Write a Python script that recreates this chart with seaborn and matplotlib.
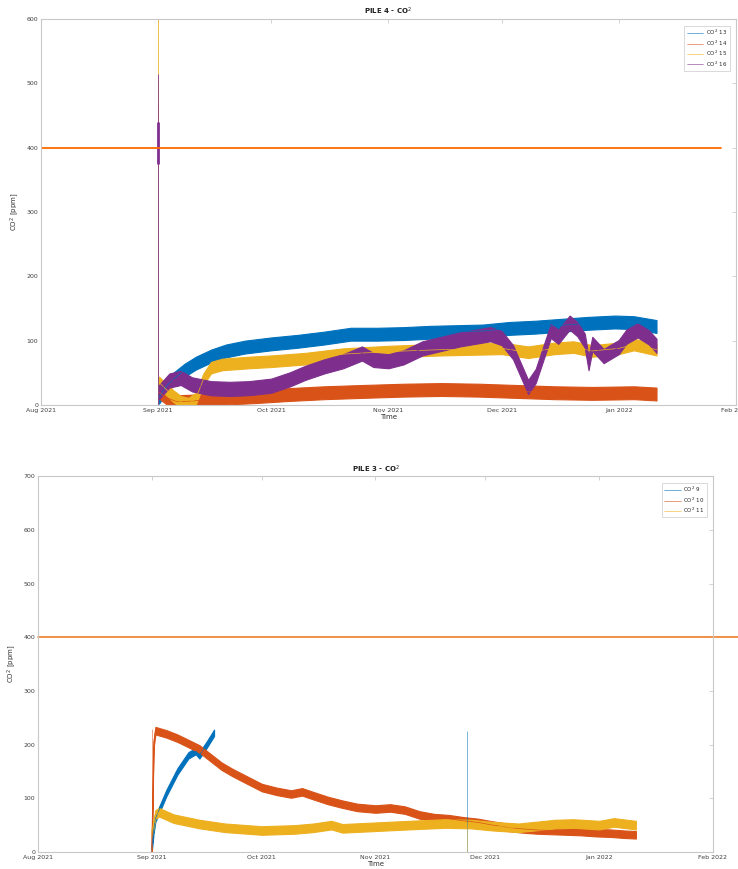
import matplotlib
matplotlib.use("Agg")
import matplotlib.pyplot as plt
import matplotlib.dates as mdates
import pandas as pd
import seaborn as sns

# ---- PILE 4 (top) ----
t13 = ['2021-09-01 06:00', '2021-09-03', '2021-09-05', '2021-09-08', '2021-09-11', '2021-09-15',
       '2021-09-19', '2021-09-24', '2021-10-01', '2021-10-08', '2021-10-15', '2021-10-22',
       '2021-10-29', '2021-11-05', '2021-11-12', '2021-11-19', '2021-11-26', '2021-12-03',
       '2021-12-10', '2021-12-17', '2021-12-24', '2021-12-31', '2022-01-05', '2022-01-11']
co2_13 = [12, 28, 40, 54, 65, 76, 84, 90, 95, 99, 104, 110, 110, 111, 113, 114, 115, 119,
          121, 124, 127, 129, 128, 122]

t14 = ['2021-09-01 06:00', '2021-09-03', '2021-09-06', '2021-09-10', '2021-09-15', '2021-09-20',
       '2021-09-27', '2021-10-05', '2021-10-15', '2021-10-25', '2021-11-05', '2021-11-15',
       '2021-11-25', '2021-12-05', '2021-12-15', '2021-12-25', '2022-01-05', '2022-01-11']
co2_14 = [20, 12, 5, 6, 9, 11, 13, 16, 19, 21, 23, 24, 23, 21, 19, 18, 19, 17]

t15 = ['2021-09-01 06:00', '2021-09-03', '2021-09-05', '2021-09-07', '2021-09-09', '2021-09-11',
       '2021-09-13', '2021-09-15', '2021-09-18', '2021-09-25', '2021-10-01', '2021-10-10',
       '2021-10-20', '2021-11-01', '2021-11-15', '2021-12-01', '2021-12-08', '2021-12-15',
       '2021-12-20', '2021-12-25', '2022-01-01', '2022-01-05', '2022-01-11']
co2_15 = [35, 25, 14, 5, 2, 10, 40, 58, 63, 66, 68, 72, 79, 83, 86, 88, 82, 88, 90, 84, 88, 94, 86]

t16 = ['2021-09-01 06:00', '2021-09-04', '2021-09-07', '2021-09-10', '2021-09-15', '2021-09-20',
       '2021-09-25', '2021-10-01', '2021-10-06', '2021-10-10', '2021-10-15', '2021-10-20',
       '2021-10-25', '2021-10-28', '2021-11-01', '2021-11-05', '2021-11-10', '2021-11-15',
       '2021-11-20', '2021-11-28', '2021-12-01', '2021-12-04', '2021-12-06', '2021-12-08',
       '2021-12-10', '2021-12-12', '2021-12-14', '2021-12-16', '2021-12-19', '2021-12-21',
       '2021-12-23', '2021-12-24', '2021-12-25', '2021-12-28', '2022-01-01', '2022-01-03',
       '2022-01-06', '2022-01-09', '2022-01-11']
co2_16 = [20, 38, 42, 32, 26, 25, 26, 30, 40, 50, 60, 68, 80, 70, 68, 74, 88, 95, 102, 110, 104,
          82, 55, 28, 45, 80, 115, 106, 128, 118, 100, 65, 95, 76, 90, 106, 116, 105, 92]

# noise band half widths (ppm)
spread_top = [10, 10, 9, 11]
# start-up spike (Sep 1): low / high per sensor
spike_top_time = '2021-09-01 00:00'
spike_top_lo = [0, 380, 0, 0]
spike_top_hi = [430, 470, 600, 515]

# ---- PILE 3 (bottom) ----
t9 = ['2021-09-01 00:00', '2021-09-01 12:00', '2021-09-02', '2021-09-03', '2021-09-05',
      '2021-09-08', '2021-09-11', '2021-09-13', '2021-09-14', '2021-09-16', '2021-09-18']
co2_9 = [5, 40, 62, 78, 110, 150, 180, 188, 180, 200, 222]

t10 = ['2021-09-01 00:00', '2021-09-01 12:00', '2021-09-02', '2021-09-05', '2021-09-08',
       '2021-09-11', '2021-09-14', '2021-09-17', '2021-09-20', '2021-09-23', '2021-09-27',
       '2021-10-01', '2021-10-05', '2021-10-09', '2021-10-12', '2021-10-15', '2021-10-19',
       '2021-10-23', '2021-10-27', '2021-11-01', '2021-11-05', '2021-11-09', '2021-11-13',
       '2021-11-17', '2021-11-21', '2021-11-25', '2021-11-29', '2021-12-03', '2021-12-07',
       '2021-12-11', '2021-12-15', '2021-12-19', '2021-12-23', '2021-12-27', '2021-12-31',
       '2022-01-04', '2022-01-08', '2022-01-11']
co2_10 = [5, 200, 226, 220, 212, 202, 192, 176, 160, 148, 134, 120, 113, 108, 112, 105, 96, 89,
          83, 80, 82, 78, 69, 64, 62, 58, 55, 50, 46, 43, 41, 40, 39, 38, 36, 35, 33, 32]

t11 = ['2021-09-01 00:00', '2021-09-02', '2021-09-03', '2021-09-07', '2021-09-14', '2021-09-21',
       '2021-10-01', '2021-10-10', '2021-10-15', '2021-10-20', '2021-10-23', '2021-11-01',
       '2021-11-10', '2021-11-20', '2021-11-27', '2021-12-03', '2021-12-10', '2021-12-20',
       '2021-12-25', '2022-01-01', '2022-01-05', '2022-01-11']
co2_11 = [35, 70, 74, 62, 52, 45, 40, 42, 45, 50, 44, 47, 50, 53, 52, 48, 45, 52, 53, 50, 55, 50]

spread_bot = [6, 7, 8]
spike_bot_time = ['2021-11-26', '2021-09-01 00:00', '2021-11-26']
spike_bot_lo = [0, 0, 0]
spike_bot_hi = [225, 230, 50]

colors = ['#0072BD', '#D95319', '#EDB120', '#7E2F8E']

sns.set_theme(style='white')
plt.rcParams['font.family'] = ['DejaVu Sans']

fig = plt.figure(figsize=(7.38, 8.69), dpi=100)
ax1 = fig.add_axes([0.0556, 0.534, 0.9414, 0.444])
ax2 = fig.add_axes([0.0515, 0.0196, 0.9145, 0.4324])


def to_time(s):
    return pd.to_datetime(s, format='ISO8601')


def draw_series(ax, times, vals, spread, color, label):
    t = to_time(times)
    # the noisy signal is shown as a solid band around its running level
    ax.fill_between(t, [v - spread for v in vals], [v + spread for v in vals],
                    color=color, lw=0.8, edgecolor=color)
    sns.lineplot(x=t, y=vals, ax=ax, color=color, lw=0.5, label=label)


top_sets = [(t13, co2_13), (t14, co2_14), (t15, co2_15), (t16, co2_16)]
top_labels = ['CO$^2$ 13', 'CO$^2$ 14', 'CO$^2$ 15', 'CO$^2$ 16']
for i, (tt, vv) in enumerate(top_sets):
    ax1.vlines(pd.Timestamp(spike_top_time), spike_top_lo[i], spike_top_hi[i],
               color=colors[i], lw=0.7, alpha=0.8)
for i, (tt, vv) in enumerate(top_sets):
    draw_series(ax1, tt, vv, spread_top[i], colors[i], top_labels[i])
ax1.vlines(pd.Timestamp(spike_top_time), 375, 440, color=colors[3], lw=2)
ax1.plot(to_time(['2021-08-01', '2022-01-28']), [400, 400], color='#FF6A00', lw=1.3)

bot_sets = [(t9, co2_9), (t10, co2_10), (t11, co2_11)]
bot_labels = ['CO$^2$ 9', 'CO$^2$ 10', 'CO$^2$ 11']
for i, (tt, vv) in enumerate(bot_sets):
    ax2.vlines(pd.Timestamp(spike_bot_time[i]), spike_bot_lo[i], spike_bot_hi[i],
               color=colors[i], lw=0.6, alpha=0.6)
for i, (tt, vv) in enumerate(bot_sets):
    draw_series(ax2, tt, vv, spread_bot[i], colors[i], bot_labels[i])
ax2.plot(to_time(['2021-08-01', '2022-02-08']), [400, 400], color='#F0883A', lw=1.3,
         clip_on=False)

for ax, ymax, title in [(ax1, 600, 'PILE 4 - CO$^2$'), (ax2, 700, 'PILE 3 - CO$^2$')]:
    ax.set_xlim(pd.Timestamp('2021-08-01'), pd.Timestamp('2022-02-01'))
    ax.set_ylim(0, ymax)
    ax.set_yticks(range(0, ymax + 1, 100))
    ax.xaxis.set_major_locator(mdates.MonthLocator())
    ax.xaxis.set_major_formatter(mdates.DateFormatter('%b %Y'))
    ax.tick_params(direction='in', length=3, width=0.5, labelsize=4.5, colors='#c0c0c0',
                   labelcolor='#404040', top=True, right=True, pad=2)
    for s in ax.spines.values():
        s.set_color('#c8c8c8')
        s.set_linewidth(0.8)
    ax.set_title(title, fontsize=5, fontweight='bold', pad=3, color='#202020')
    ax.set_xlabel('Time', fontsize=5, labelpad=1, color='#303030')
    ax.set_ylabel('CO$^2$ [ppm]', fontsize=5, labelpad=4, color='#303030')
    leg = ax.legend(loc='upper right', fontsize=4, handlelength=3.0, frameon=True,
                    fancybox=False, borderpad=0.4, labelspacing=0.2, handletextpad=0.5,
                    bbox_to_anchor=(0.995, 0.99))
    leg.get_frame().set_edgecolor('#c8c8c8')
    leg.get_frame().set_linewidth(0.6)
    for line in leg.get_lines():
        line.set_linewidth(0.4)

fig.savefig('out.png', dpi=100)
